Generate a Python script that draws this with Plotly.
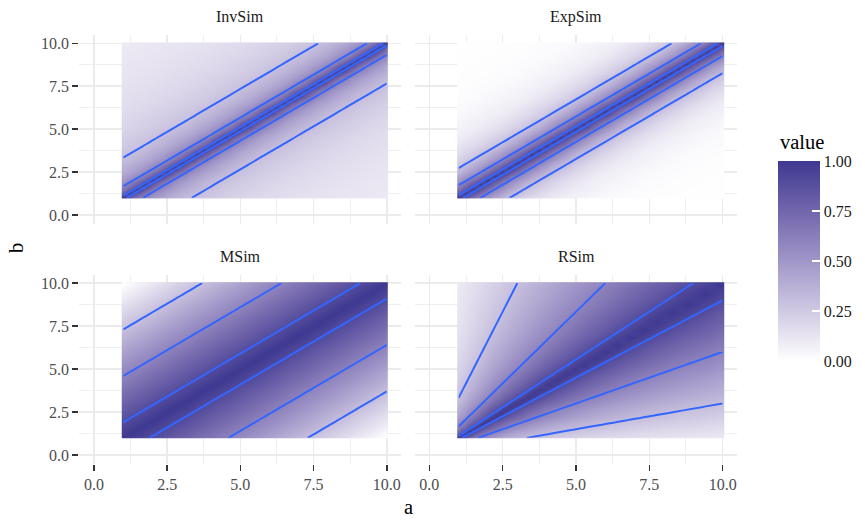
import plotly.graph_objects as go

W, H = 865, 521

# ---------------- data ----------------
panel_titles = ["InvSim", "ExpSim", "MSim", "RSim"]

# grid of a / b values for the difference-based similarities
grid = [1.0, 1.25, 1.5, 1.75, 2.0, 2.25, 2.5, 2.75, 3.0, 3.25, 3.5, 3.75,
        4.0, 4.25, 4.5, 4.75, 5.0, 5.25, 5.5, 5.75, 6.0, 6.25, 6.5, 6.75,
        7.0, 7.25, 7.5, 7.75, 8.0, 8.25, 8.5, 8.75, 9.0, 9.25, 9.5, 9.75, 10.0]

# similarity value as a function of |a - b| (0, 0.25, ..., 9)
distance = [0.0, 0.25, 0.5, 0.75, 1.0, 1.25, 1.5, 1.75, 2.0, 2.25, 2.5, 2.75,
            3.0, 3.25, 3.5, 3.75, 4.0, 4.25, 4.5, 4.75, 5.0, 5.25, 5.5, 5.75,
            6.0, 6.25, 6.5, 6.75, 7.0, 7.25, 7.5, 7.75, 8.0, 8.25, 8.5, 8.75, 9.0]

inv_sim = [1.000, 0.800, 0.667, 0.571, 0.500, 0.444, 0.400, 0.364, 0.333, 0.308,
           0.286, 0.267, 0.250, 0.235, 0.222, 0.211, 0.200, 0.190, 0.182, 0.174,
           0.167, 0.160, 0.154, 0.148, 0.143, 0.138, 0.133, 0.129, 0.125, 0.121,
           0.118, 0.114, 0.111, 0.108, 0.105, 0.103, 0.100]

exp_sim = [1.000, 0.841, 0.707, 0.595, 0.500, 0.420, 0.354, 0.297, 0.250, 0.210,
           0.177, 0.149, 0.125, 0.105, 0.088, 0.074, 0.063, 0.053, 0.044, 0.037,
           0.031, 0.026, 0.022, 0.019, 0.016, 0.013, 0.011, 0.009, 0.008, 0.007,
           0.006, 0.005, 0.004, 0.003, 0.003, 0.002, 0.002]

m_sim = [1.000, 0.972, 0.944, 0.917, 0.889, 0.861, 0.833, 0.806, 0.778, 0.750,
         0.722, 0.694, 0.667, 0.639, 0.611, 0.583, 0.556, 0.528, 0.500, 0.472,
         0.444, 0.417, 0.389, 0.361, 0.333, 0.306, 0.278, 0.250, 0.222, 0.194,
         0.167, 0.139, 0.111, 0.083, 0.056, 0.028, 0.000]

# RSim (ratio similarity) on a geometric grid of a / b values (1 .. 10),
# tabulated against the number of grid steps between a and b
r_grid = [1.0000, 1.0661, 1.1365, 1.2115, 1.2915, 1.3769, 1.4678, 1.5648, 1.6681,
          1.7783, 1.8957, 2.0210, 2.1544, 2.2967, 2.4484, 2.6102, 2.7826, 2.9664,
          3.1623, 3.3711, 3.5938, 3.8312, 4.0842, 4.3540, 4.6416, 4.9482, 5.2750,
          5.6234, 5.9948, 6.3908, 6.8129, 7.2629, 7.7426, 8.2540, 8.7992, 9.3804,
          10.0000]
r_sim = [1.0000, 0.9380, 0.8799, 0.8254, 0.7743, 0.7263, 0.6813, 0.6391, 0.5995,
         0.5623, 0.5275, 0.4948, 0.4642, 0.4354, 0.4084, 0.3831, 0.3594, 0.3371,
         0.3162, 0.2966, 0.2783, 0.2610, 0.2448, 0.2297, 0.2154, 0.2021, 0.1896,
         0.1778, 0.1668, 0.1565, 0.1468, 0.1377, 0.1292, 0.1212, 0.1136, 0.1066,
         0.1000]

contour_levels = [0.3, 0.6, 0.9]

axis_ticks = [0, 2.5, 5, 7.5, 10]
axis_tick_text = ["0.0", "2.5", "5.0", "7.5", "10.0"]
axis_minor = [1.25, 3.75, 6.25, 8.75]
legend_ticks = [0, 0.25, 0.5, 0.75, 1.0]
legend_tick_text = ["0.00", "0.25", "0.50", "0.75", "1.00"]


def step_table(points, profile):
    n = len(points)
    return [[profile[abs(i - j)] for i in range(n)] for j in range(n)]


def edges(points, pad=0.05):
    mids = [(p + q) / 2 for p, q in zip(points[:-1], points[1:])]
    return [points[0] - pad] + mids + [points[-1] + pad]


panels = [
    (grid, step_table(grid, inv_sim)),
    (grid, step_table(grid, exp_sim)),
    (grid, step_table(grid, m_sim)),
    (r_grid, step_table(r_grid, r_sim)),
]

# ---------------- layout geometry (pixels) ----------------
FONT = "Liberation Serif"
px_x = [(79.3, 401.4), (414.7, 737.3), (79.3, 401.4), (414.7, 737.3)]
px_y = [(34.7, 223.6), (34.7, 223.6), (274.5, 463.6), (274.5, 463.6)]


def fx(p):
    return p / W


def fy(p):
    return 1 - p / H


colorscale = [
    [0.0, "#FFFFFF"],
    [0.25, "#D0C9E3"],
    [0.5, "#A196C8"],
    [0.75, "#7266AC"],
    [1.0, "#3E3991"],
]

fig = go.Figure()

for k, (g, z) in enumerate(panels):
    xa = "x" if k == 0 else f"x{k + 1}"
    ya = "y" if k == 0 else f"y{k + 1}"
    fig.add_trace(go.Heatmap(
        x=edges(g), y=edges(g), z=z, coloraxis="coloraxis", zsmooth="best",
        xaxis=xa, yaxis=ya, hoverinfo="skip"))
    fig.add_trace(go.Contour(
        x=g, y=g, z=z, autocontour=False,
        contours=dict(start=contour_levels[0], end=contour_levels[-1],
                      size=contour_levels[1] - contour_levels[0], coloring="none"),
        line=dict(color="#3366FF", width=2, smoothing=0),
        showscale=False, xaxis=xa, yaxis=ya, hoverinfo="skip"))

layout_axes = {}
for k in range(4):
    bottom = k >= 2
    left = k % 2 == 0
    xname = "xaxis" if k == 0 else f"xaxis{k + 1}"
    yname = "yaxis" if k == 0 else f"yaxis{k + 1}"
    common = dict(
        range=[-0.5, 10.5], tickvals=axis_ticks, ticktext=axis_tick_text,
        showgrid=True, gridcolor="#EBEBEB", gridwidth=1.5,
        minor=dict(tickvals=axis_minor, showgrid=True, gridcolor="#EBEBEB", gridwidth=0.8),
        zeroline=False, showline=False, ticklen=6, tickwidth=1.5, tickcolor="#333333",
        tickfont=dict(family=FONT, size=16, color="#4D4D4D"), fixedrange=True,
    )
    layout_axes[xname] = dict(
        common, domain=[fx(px_x[k][0]), fx(px_x[k][1])],
        anchor="y" if k == 0 else f"y{k + 1}",
        ticks="outside" if bottom else "", showticklabels=bottom,
    )
    layout_axes[yname] = dict(
        common, domain=[fy(px_y[k][1]), fy(px_y[k][0])],
        anchor="x" if k == 0 else f"x{k + 1}",
        ticks="outside" if left else "", showticklabels=left,
    )

bar_top, bar_bottom, bar_left, bar_w = 161.5, 361.0, 778.3, 42

annotations = []
for k, title in enumerate(panel_titles):
    annotations.append(dict(
        text=title, x=fx((px_x[k][0] + px_x[k][1]) / 2), y=fy(px_y[k][0] - 18),
        xref="paper", yref="paper", showarrow=False, xanchor="center", yanchor="middle",
        font=dict(family=FONT, size=16, color="#1A1A1A")))
annotations += [
    dict(text="a", x=fx(408), y=fy(507), xref="paper", yref="paper", showarrow=False,
         xanchor="center", yanchor="middle", font=dict(family=FONT, size=20.5, color="#000000")),
    dict(text="b", x=fx(16), y=fy(248), xref="paper", yref="paper", showarrow=False,
         textangle=-90, xanchor="center", yanchor="middle",
         font=dict(family=FONT, size=20.5, color="#000000")),
    dict(text="value", x=fx(bar_left), y=fy(141.5), xref="paper", yref="paper",
         showarrow=False, xanchor="left", yanchor="middle",
         font=dict(family=FONT, size=20.5, color="#000000")),
]

fig.update_layout(
    width=W, height=H, margin=dict(l=0, r=0, t=0, b=0),
    paper_bgcolor="white", plot_bgcolor="white", showlegend=False,
    font=dict(family=FONT),
    coloraxis=dict(
        colorscale=colorscale, cmin=0, cmax=1,
        colorbar=dict(
            x=fx(bar_left), xanchor="left", xpad=0,
            y=fy(bar_bottom), yanchor="bottom", ypad=0,
            len=bar_bottom - bar_top, lenmode="pixels",
            thickness=bar_w, thicknessmode="pixels", outlinewidth=0,
            tickvals=legend_ticks, ticktext=legend_tick_text,
            ticks="inside", ticklen=8, tickcolor="white", tickwidth=1.2,
            tickfont=dict(family=FONT, size=16, color="#1A1A1A"),
            title=dict(text=""),
        ),
    ),
    annotations=annotations,
    **layout_axes,
)

fig.write_html("out.html", config={"displayModeBar": False, "staticPlot": True},
               post_script="document.body.style.margin='0px';")
